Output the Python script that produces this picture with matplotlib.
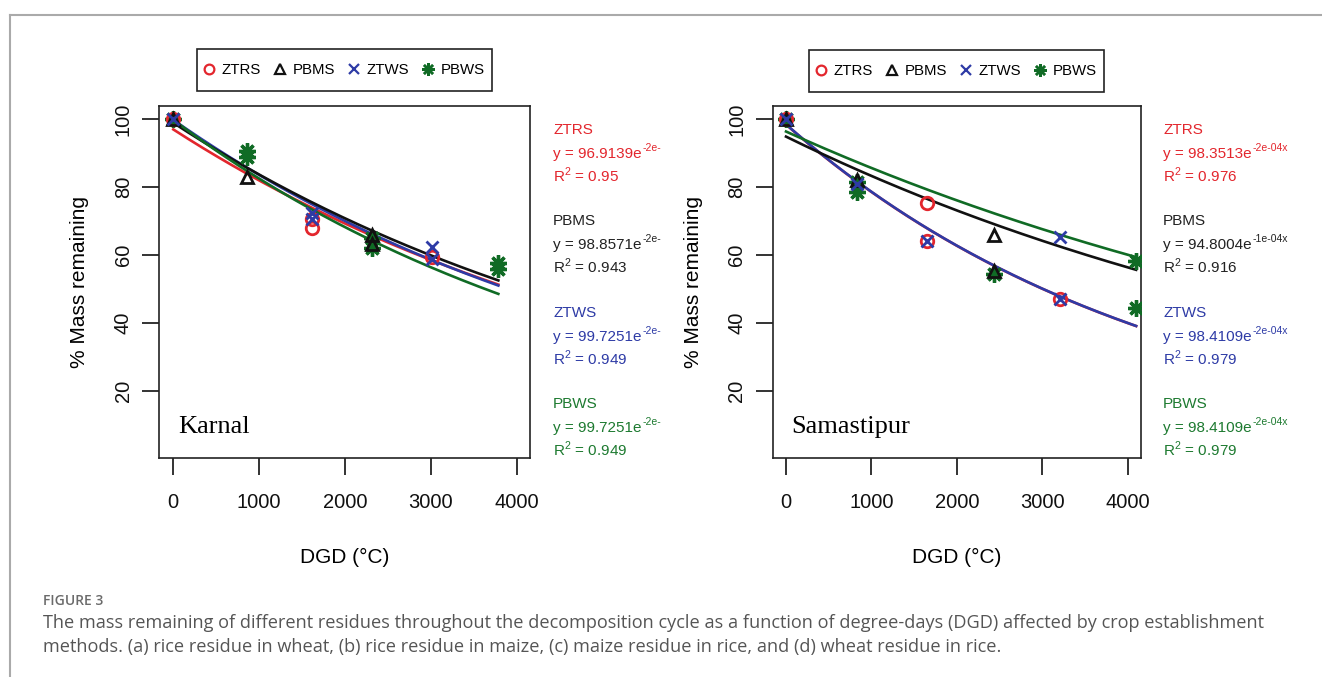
import numpy as np
import matplotlib.pyplot as plt
from matplotlib.lines import Line2D
from matplotlib.patches import Rectangle

# ---- data ----
series = ['ZTRS', 'PBMS', 'ZTWS', 'PBWS']
colors = {'ZTRS': '#e3262d', 'PBMS': '#111111', 'ZTWS': '#2e3ba6', 'PBWS': '#106b25'}
text_colors = {'ZTRS': '#e3262d', 'PBMS': '#222222', 'ZTWS': '#2e3ba6', 'PBWS': '#1d7a30'}

# Karnal observations
karnal_x = {
    'ZTRS': [0, 1613, 1613, 3012],
    'PBMS': [0, 855, 2312, 2312],
    'ZTWS': [0, 1613, 1613, 3012, 3012],
    'PBWS': [0, 855, 855, 2312, 2312, 3788, 3788],
}
karnal_y = {
    'ZTRS': [100, 70.6, 68.0, 59.5],
    'PBMS': [100, 83.0, 66.0, 63.3],
    'ZTWS': [100, 72.2, 70.5, 62.4, 58.8],
    'PBWS': [100, 90.5, 88.8, 65.0, 62.0, 57.5, 55.8],
}
# Karnal exponential fits y = a * exp(-k x)
karnal_a = {'ZTRS': 96.9139, 'PBMS': 98.8571, 'ZTWS': 99.7251, 'PBWS': 99.7251}
karnal_k = {'ZTRS': 1.68e-4, 'PBMS': 1.67e-4, 'ZTWS': 1.77e-4, 'PBWS': 1.90e-4}
karnal_xmax = 3788
karnal_eq = {'ZTRS': ('96.9139', '-2e-', '0.95'),
             'PBMS': ('98.8571', '-2e-', '0.943'),
             'ZTWS': ('99.7251', '-2e-', '0.949'),
             'PBWS': ('99.7251', '-2e-', '0.949')}

# Samastipur observations
sam_x = {
    'ZTRS': [0, 1647, 1647, 3213],
    'PBMS': [0, 828, 2436, 2436],
    'ZTWS': [0, 828, 1647, 3213, 3213],
    'PBWS': [0, 828, 828, 2436, 4093, 4093],
}
sam_y = {
    'ZTRS': [100, 75.3, 64.1, 47.0],
    'PBMS': [100, 82.0, 65.8, 55.2],
    'ZTWS': [100, 81.0, 64.1, 65.2, 47.0],
    'PBWS': [100, 81.6, 78.6, 54.5, 58.2, 44.5],
}
sam_a = {'ZTRS': 98.3513, 'PBMS': 94.8004, 'ZTWS': 98.4109, 'PBWS': 96.3}
sam_k = {'ZTRS': 2.25e-4, 'PBMS': 1.30e-4, 'ZTWS': 2.25e-4, 'PBWS': 1.18e-4}
sam_xmax = 4100
sam_eq = {'ZTRS': ('98.3513', '-2e-04x', '0.976'),
          'PBMS': ('94.8004', '-1e-04x', '0.916'),
          'ZTWS': ('98.4109', '-2e-04x', '0.979'),
          'PBWS': ('98.4109', '-2e-04x', '0.979')}

x_ticks = [0, 1000, 2000, 3000, 4000]
y_ticks = [20, 40, 60, 80, 100]

markers = {'ZTRS': 'o', 'PBMS': '^', 'ZTWS': 'x', 'PBWS': (8, 2, 0)}

plt.rcParams['font.family'] = ['Liberation Sans', 'DejaVu Sans']
plt.rcParams['mathtext.fontset'] = 'custom'
plt.rcParams['mathtext.rm'] = 'Liberation Sans'

W, H = 1322, 677
fig = plt.figure(figsize=(W / 100, H / 100), dpi=100)


def fx(px):
    return px / W


def fy(py):
    return 1 - py / H


def draw_marks(ax, s, xs, ys, ms=9):
    m = markers[s]
    if s == 'PBWS':
        ax.plot(xs, ys, ls='none', marker=m, color=colors[s], ms=12, mew=2.4, zorder=4)
    elif s == 'ZTWS':
        ax.plot(xs, ys, ls='none', marker=m, color=colors[s], ms=ms, mew=2.0, zorder=5)
    else:
        ax.plot(xs, ys, ls='none', marker=m, color=colors[s], mfc='none', ms=ms, mew=2.0, zorder=5)


def panel(rect, xs, ys, a, k, xmax, xlim, site, eqs, text_x, leg_box):
    ax = fig.add_axes(rect)
    grid = np.linspace(0, xmax, 200)
    for s in ['ZTRS', 'ZTWS', 'PBMS', 'PBWS']:
        ax.plot(grid, a[s] * np.exp(-k[s] * grid), color=colors[s], lw=1.9, zorder=3)
    for s in series:
        draw_marks(ax, s, xs[s], ys[s])
    ax.set_xlim(*xlim)
    ax.set_ylim(0.3, 103.8)
    ax.set_xticks(x_ticks)
    ax.set_yticks(y_ticks)
    ax.tick_params(direction='out', length=12, width=1.2, labelsize=14.5, colors='#111111')
    ax.tick_params(axis='x', pad=13)
    ax.tick_params(axis='y', labelrotation=90, pad=7)
    for lab in ax.get_yticklabels():
        lab.set_va('center')
    for sp in ax.spines.values():
        sp.set_linewidth(1.2)
        sp.set_color('#222222')
    ax.set_xlabel('DGD (°C)', fontsize=15)
    ax.set_ylabel('% Mass remaining', fontsize=15)
    ax.xaxis.set_label_coords(0.5, -0.255)
    ax.yaxis.set_label_coords(-0.19, 0.5)
    ax.text(0.05, 0.07, site, transform=ax.transAxes, fontsize=19,
            family=['Liberation Serif', 'DejaVu Serif'], va='baseline')

    handles = []
    for s in series:
        m = markers[s]
        if s == 'PBWS':
            h = Line2D([], [], ls='none', marker=m, color=colors[s], ms=9, mew=1.8)
        elif s == 'ZTWS':
            h = Line2D([], [], ls='none', marker=m, color=colors[s], ms=7, mew=1.6)
        else:
            h = Line2D([], [], ls='none', marker=m, color=colors[s], mfc='none', ms=7, mew=1.6)
        handles.append(h)
    x0, y0, x1, y1 = leg_box
    fig.legend(handles, series, loc='center',
               bbox_to_anchor=(fx((x0 + x1) / 2), fy((y0 + y1) / 2)), ncol=4,
               fontsize=10.8, frameon=False, handlelength=0.6, handletextpad=0.55,
               columnspacing=0.95, borderpad=0.3)
    fig.add_artist(Rectangle((fx(x0), fy(y1)), fx(x1 - x0), (y1 - y0) / H,
                             transform=fig.transFigure, fill=False,
                             edgecolor='#222222', lw=1.2))

    # fit equations to the right of the panel
    block_y = [134, 225, 317, 408]
    for s, by in zip(series, block_y):
        c = text_colors[s]
        coef, expo, r2 = eqs[s]
        fig.text(fx(text_x), fy(by), s, color=c, fontsize=11, va='baseline')
        t = fig.text(fx(text_x), fy(by + 24), 'y = ' + coef + 'e',
                     color=c, fontsize=11, va='baseline')
        ax.annotate(expo, xy=(1, 0.55), xycoords=t, xytext=(0.5, 0),
                    textcoords='offset points', color=c, fontsize=7.5,
                    va='bottom', ha='left', annotation_clip=False)
        fig.text(fx(text_x), fy(by + 48), 'R$^{\\mathregular{2}}$ = ' + r2,
                 color=c, fontsize=11, va='baseline')
    return ax


panel([fx(159.3), fy(458), fx(530 - 159.3), (458 - 106) / H],
      karnal_x, karnal_y, karnal_a, karnal_k, karnal_xmax, (-163, 4157), 'Karnal',
      karnal_eq, 553, (197, 49, 492, 91))
panel([fx(772.7), fy(458), fx(1141 - 772.7), (458 - 106) / H],
      sam_x, sam_y, sam_a, sam_k, sam_xmax, (-156, 4157), 'Samastipur',
      sam_eq, 1163, (809, 50, 1104, 92))

# page frame
fig.add_artist(Line2D([fx(10), 1], [fy(15), fy(15)], color='#aaaaaa', lw=1.5))
fig.add_artist(Line2D([fx(10), fx(10)], [fy(15), 0], color='#aaaaaa', lw=1.5))

cap_fam = ['Open Sans', 'DejaVu Sans']
fig.text(fx(43), fy(601), 'FIGURE 3', color='#6b6b6b', fontsize=10, family=cap_fam,
         weight='semibold', va='center')
fig.text(fx(43), fy(623),
         'The mass remaining of different residues throughout the decomposition cycle as a '
         'function of degree-days (DGD) affected by crop establishment',
         color='#555555', fontsize=13.1, family=cap_fam, va='center')
fig.text(fx(43), fy(647),
         'methods. (a) rice residue in wheat, (b) rice residue in maize, (c) maize residue in '
         'rice, and (d) wheat residue in rice.',
         color='#555555', fontsize=13.1, family=cap_fam, va='center')

fig.savefig('out.png', dpi=100)
